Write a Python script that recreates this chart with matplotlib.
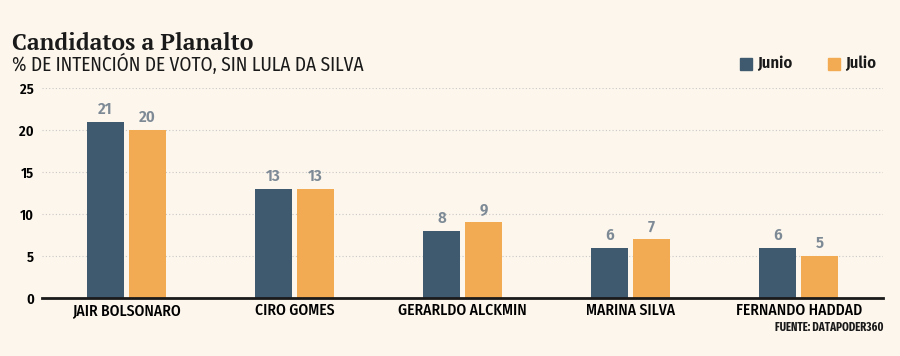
import matplotlib.pyplot as plt
import numpy as np
from matplotlib.patches import Rectangle

candidatos = ["JAIR BOLSONARO", "CIRO GOMES", "GERARLDO ALCKMIN", "MARINA SILVA", "FERNANDO HADDAD"]
junio = [21, 13, 8, 6, 6]
julio = [20, 13, 9, 7, 5]
yticks = [0, 5, 10, 15, 20, 25]

bg = "#fdf6ec"
c_junio = "#3f5a6e"
c_julio = "#f2ab52"
c_num = "#7d8a96"
narrow = ["Fira Sans Condensed", "DejaVu Sans"]
xnarrow = ["Fira Sans Extra Condensed", "Fira Sans Condensed", "DejaVu Sans"]
serif = ["PT Serif", "DejaVu Serif"]

fig = plt.figure(figsize=(9, 3.56), dpi=100, facecolor=bg)
ax = fig.add_axes([0.047, 0.163, 0.934, 0.59], facecolor=bg)

x = np.arange(len(candidatos))
w = 0.22
off = 0.125
b1 = ax.bar(x - off, junio, w, color=c_junio, zorder=3)
b2 = ax.bar(x + off, julio, w, color=c_julio, zorder=3)
for bars, vals in ((b1, junio), (b2, julio)):
    for b, v in zip(bars, vals):
        ax.text(b.get_x() + b.get_width() / 2, v + 0.5, str(v), ha="center", va="bottom",
                color=c_num, fontsize=12, fontweight="semibold", family=narrow)

ax.set_xlim(-0.5, 4.5)
ax.set_ylim(0, 25)
ax.set_yticks(yticks)
ax.set_yticklabels([str(t) for t in yticks], family=narrow, fontsize=10.5, fontweight="semibold")
ax.set_xticks(x)
ax.set_xticklabels(candidatos, family=narrow, fontsize=11.2, fontweight="medium")
ax.tick_params(length=0, pad=3)
ax.tick_params(axis="y", pad=6)
for lab in ax.get_yticklabels():
    lab.set_horizontalalignment("right")
ax.grid(axis="y", color="#c8c8c8", linestyle=(0, (1, 2)), linewidth=0.8, zorder=0)
for s in ["top", "right", "left"]:
    ax.spines[s].set_visible(False)
ax.spines["bottom"].set_linewidth(2)
ax.spines["bottom"].set_color("#1a1a1a")
ax.spines["bottom"].set_zorder(4)

fig.text(0.013, 0.86, "Candidatos a Planalto", fontsize=16.5, fontweight="bold",
         family=serif, color="#1a1a1a")
fig.text(0.013, 0.8, "% DE INTENCIÓN DE VOTO, SIN LULA DA SILVA", fontsize=13.9,
         family=narrow, color="#1a1a1a")

# legend
for xs, lab, col in ((0.822, "Junio", c_junio), (0.92, "Julio", c_julio)):
    fig.patches.append(Rectangle((xs, 0.804), 0.0135, 0.034, transform=fig.transFigure,
                                 color=col, figure=fig))
    fig.text(xs + 0.019, 0.821, lab, va="center", fontsize=12, fontweight="semibold",
             family=narrow, color="#1a1a1a")

fig.text(0.982, 0.07, "FUENTE: DATAPODER360", ha="right", fontsize=8.5, fontweight="bold",
         family=xnarrow, color="#1a1a1a")

fig.savefig("out.png", dpi=100, facecolor=bg)
